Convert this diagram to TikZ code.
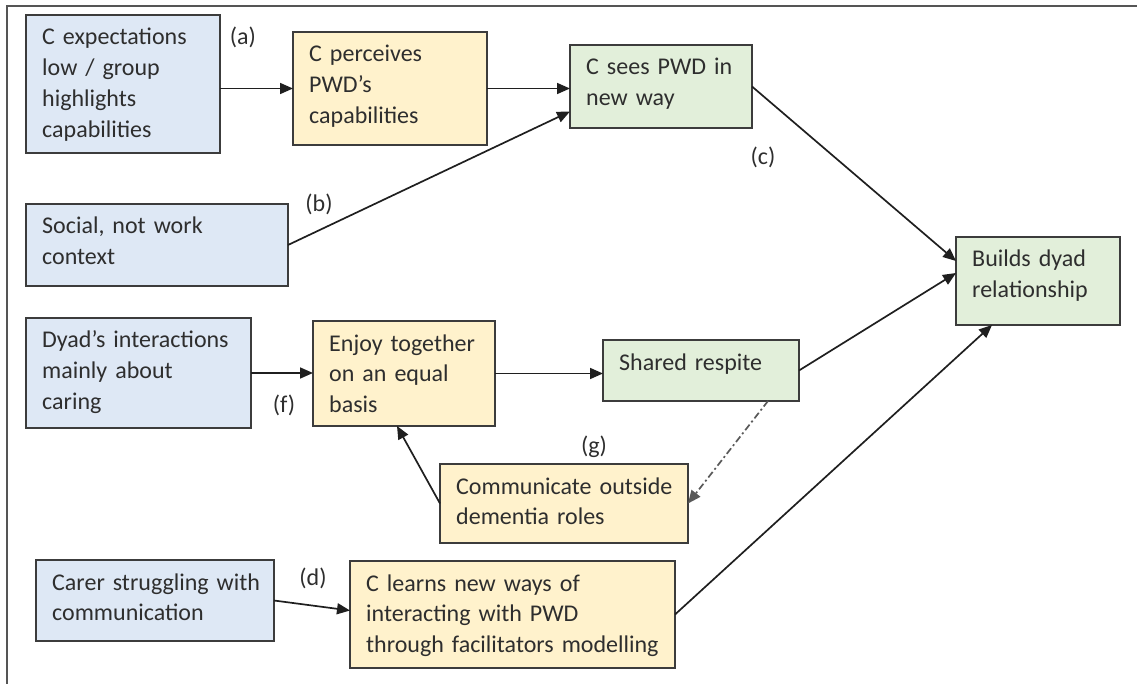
\documentclass[tikz,border=0pt]{standalone}
\usepackage{fontspec}
\setmainfont{Carlito}
\usetikzlibrary{arrows.meta}

\definecolor{bluefill}{HTML}{DEE8F5}
\definecolor{yelfill}{HTML}{FFF2CC}
\definecolor{grnfill}{HTML}{E2EFDA}
\definecolor{edgegray}{HTML}{3C3C3C}
\definecolor{ink}{HTML}{2E2E2E}
\definecolor{framegray}{HTML}{555555}

\tikzset{
  boxbase/.style={rectangle, draw=edgegray, line width=1.7pt, anchor=north west,
    inner sep=0pt, outer sep=0pt},
  boxtext/.style={anchor=base west, align=left, inner sep=0pt, text=ink,
    font=\fontsize{24}{30.7}\selectfont},
  tag/.style={inner sep=0pt, text=ink, font=\fontsize{24}{30.7}\selectfont},
  conn/.style={draw=black!88, line width=1.7pt, -{Triangle[length=13pt,width=11pt]}},
  dashdotconn/.style={draw=black!65, dash pattern=on 7pt off 3pt on 2pt off 3pt},
  framestyle/.style={draw=framegray, line width=2pt}
}

% #1 name, #2 fill, #3 x, #4 y (top-left), #5 width, #6 height, #7 text
\newcommand\flowbox[7]{%
  \pgfmathsetmacro\flowtw{#5-20}%
  \node[boxbase, fill=#2, minimum width=#5pt, minimum height=#6pt] (#1) at (#3,#4) {};
  \node[boxtext, text width=\flowtw pt] (#1-t) at ([xshift=16pt,yshift=-30pt]#1.north west) {#7};
}

\begin{document}
\begin{tikzpicture}[x=1pt, y=-1pt]
  \useasboundingbox (0,0) rectangle (1137,684);

  % outer frame (top and left edges)
  \draw[framestyle] (7,684) -- (7,6) -- (1137,6);

  % boxes
  \flowbox{a1}{bluefill}{26}{15}{194}{138}{C expectations\\low / group\\highlights\\capabilities}
  \flowbox{a2}{yelfill}{293}{32}{194}{113}{C perceives\\PWD’s\\capabilities}
  \flowbox{a3}{grnfill}{570}{45}{182}{83}{C sees PWD in\\new way}
  \flowbox{b1}{bluefill}{26}{204}{262}{82}{Social, not work\\context}
  \flowbox{bd}{grnfill}{956}{237}{164}{88}{Builds dyad\\relationship}
  \flowbox{d1}{bluefill}{26}{318}{225}{110}{Dyad’s interactions\\mainly about\\caring}
  \flowbox{d2}{yelfill}{313}{321}{182}{105}{Enjoy together\\on an equal\\basis}
  \flowbox{d3}{grnfill}{603}{340}{196}{61}{Shared respite}
  \flowbox{d4}{yelfill}{440}{464}{248}{79}{Communicate outside\\dementia roles}
  \flowbox{e1}{bluefill}{36}{560}{238}{81}{Carer struggling with\\communication}
  \flowbox{e2}{yelfill}{350}{561}{325}{107}{C learns new ways of\\interacting with PWD\\through facilitators modelling}

  % path labels
  \node[tag] (la) at (243,37) {(a)};
  \node[tag] (lb) at (319,204) {(b)};
  \node[tag] (lc) at (763,157) {(c)};
  \node[tag] (lf) at (284,405) {(f)};
  \node[tag] (lg) at (594,447) {(g)};
  \node[tag] (ld) at (313,578) {(d)};

  % connectors
  \draw[conn] (a1.east |- a2.west) -- (a2.west);
  \draw[conn] (a2.east) -- (a2.east -| a3.west);
  \draw[conn] (b1.east) -- ([yshift=-25pt]a3.west);
  \draw[conn] (a3.east) -- ([yshift=20pt]bd.west);
  \draw[conn] (d1.east) -- (d1.east -| d2.west);
  \draw[conn] (d2.east) -- (d2.east -| d3.west);
  \draw[conn] (d3.east) -- ([yshift=8pt]bd.west);
  \draw[conn, dashdotconn] ([xshift=67pt]d3.south) -- (d4.east);
  \draw[conn] (d4.west) -- ([xshift=-7pt]d2.south);
  \draw[conn] (e1.east) -- ([yshift=4pt]e2.west);
  \draw[conn] (e2.east) -- ([xshift=-46pt]bd.south);
\end{tikzpicture}
\end{document}
